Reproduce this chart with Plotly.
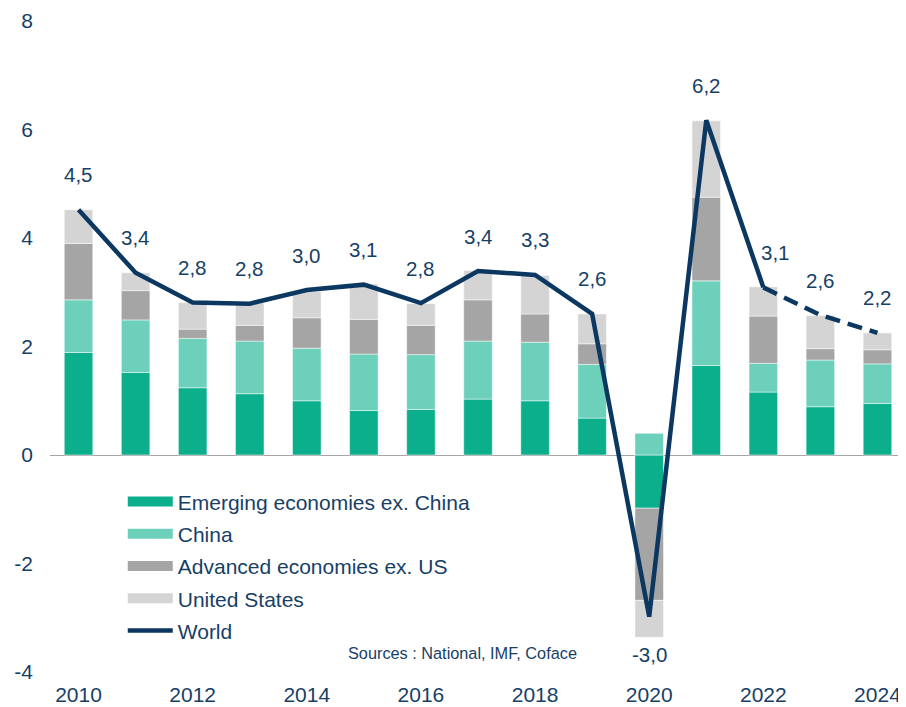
import plotly.graph_objects as go

years = list(range(2010, 2025))
emerging_ex_china = [1.89, 1.52, 1.24, 1.13, 1.00, 0.82, 0.84, 1.03, 1.00, 0.68, -0.98, 1.65, 1.16, 0.89, 0.95]
china = [0.97, 0.97, 0.91, 0.97, 0.97, 1.04, 1.01, 1.07, 1.08, 0.99, 0.40, 1.56, 0.53, 0.86, 0.73]
advanced_ex_us = [1.04, 0.54, 0.17, 0.29, 0.56, 0.64, 0.54, 0.76, 0.52, 0.38, -1.70, 1.54, 0.87, 0.21, 0.26]
united_states = [0.62, 0.33, 0.49, 0.41, 0.48, 0.65, 0.40, 0.54, 0.71, 0.55, -0.68, 1.41, 0.54, 0.61, 0.31]
world = [4.52, 3.36, 2.81, 2.79, 3.04, 3.14, 2.80, 3.39, 3.32, 2.60, -2.98, 6.17, 3.09, 2.58, 2.25]
world_labels = ["4,5", "3,4", "2,8", "2,8", "3,0", "3,1", "2,8", "3,4", "3,3", "2,6", "-3,0", "6,2", "3,1", "2,6", "2,2"]
forecast_start = 2022
y_ticks = [-4, -2, 0, 2, 4, 6, 8]
x_ticks = [2010, 2012, 2014, 2016, 2018, 2020, 2022, 2024]

series = [
    ("Emerging economies ex. China", emerging_ex_china, "#0BAF8C"),
    ("China", china, "#6DD0BB"),
    ("Advanced economies ex. US", advanced_ex_us, "#A5A5A5"),
    ("United States", united_states, "#D4D4D4"),
]
navy = "#0B3761"
text_col = "#173F66"
font_family = "Liberation Sans, Arial, sans-serif"

fig = go.Figure()
for i, (name, vals, col) in enumerate(series):
    fig.add_trace(go.Bar(
        x=years, y=vals, name=name, marker_color=col,
        marker_line=dict(color="rgba(255,255,255,0.6)", width=0.8),
        width=0.5, showlegend=False, hoverinfo="skip",
    ))
    # legend proxy (wide swatch)
    fig.add_trace(go.Scatter(
        x=[None], y=[None], mode="lines", name=name,
        line=dict(color=col, width=10), legendgroup=f"g{i}", showlegend=True,
    ))

fi = years.index(forecast_start)
fig.add_trace(go.Scatter(
    x=years[:fi + 1], y=world[:fi + 1], mode="lines", name="World",
    line=dict(color=navy, width=4.5), legendgroup="g5", showlegend=True,
))
fig.add_trace(go.Scatter(
    x=years[fi:], y=world[fi:], mode="lines", name="World (forecast)",
    line=dict(color=navy, width=4.5, dash="15px,8px"), showlegend=False,
))

annotations = []
for yr, w, lab in zip(years, world, world_labels):
    below = w < 0
    xs = 12 if yr == 2022 else 0
    annotations.append(dict(
        x=yr, y=w, text=lab, showarrow=False, xref="x", yref="y",
        yshift=-38 if below else 35, xshift=xs,
        font=dict(size=20.5, color=text_col, family=font_family),
    ))
annotations.append(dict(
    x=0.482, y=0.012, xref="paper", yref="paper", text="Sources : National, IMF, Coface",
    showarrow=False, font=dict(size=16.3, color=text_col, family=font_family),
))

# page body has an 8px margin: figure is sized to fit the 906x707 window
fig.update_layout(
    width=898, height=699,
    margin=dict(l=42, r=0, t=13, b=35),
    barmode="relative",
    plot_bgcolor="white", paper_bgcolor="white",
    font=dict(family=font_family, color=text_col, size=21),
    annotations=annotations,
    legend=dict(
        x=0.085, y=0.293, xanchor="left", yanchor="top",
        font=dict(size=21, color=text_col, family=font_family),
        itemwidth=45, tracegroupgap=2, bgcolor="rgba(0,0,0,0)",
    ),
    xaxis=dict(
        range=[2009.5, 2024.5], tickvals=x_ticks, ticktext=[str(t) for t in x_ticks],
        showgrid=False, zeroline=False, showline=False, ticks="",
        ticklabelstandoff=8, tickfont=dict(size=21, color=text_col),
    ),
    yaxis=dict(
        range=[-4, 8], tickvals=y_ticks, ticktext=[str(t) for t in y_ticks],
        showgrid=False, zeroline=True, zerolinecolor="#A6A6A6", zerolinewidth=1.2,
        showline=False, ticks="", ticklabelstandoff=16,
        tickfont=dict(size=21, color=text_col),
    ),
)

fig.write_html("out.html")
